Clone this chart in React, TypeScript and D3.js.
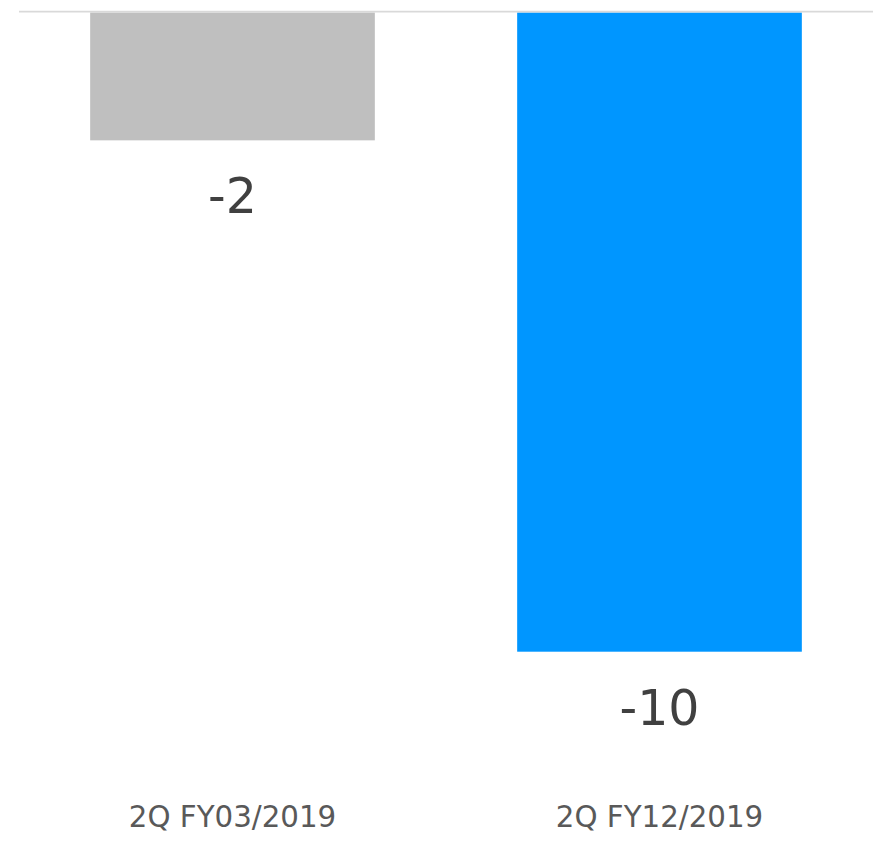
import React from "react";
import * as d3 from "d3";

const categories = ["2Q FY03/2019", "2Q FY12/2019"];
const values = [-2, -10];
const barColors = ["#bfbfbf", "#0096ff"];

const W = 885;
const H = 844;

export default function App() {
  const x = d3
    .scaleBand<string>()
    .domain(categories)
    .range([19, 873])
    .paddingInner(1 / 3)
    .paddingOuter(1 / 6);
  const y = d3.scaleLinear().domain([0, -10]).range([12.5, 651.7]);

  return (
    <svg
      width={W}
      height={H}
      style={{ position: "absolute", left: 0, top: 0 }}
      fontFamily="'DejaVu Sans', Verdana, sans-serif"
    >
      <rect width={W} height={H} fill="#ffffff" />
      {categories.map((c, i) => {
        const v = values[i];
        const x0 = x(c)!;
        const bw = x.bandwidth();
        const yTop = y(Math.max(0, v));
        const yBot = y(Math.min(0, v));
        return (
          <g key={c}>
            <rect x={x0} y={yTop} width={bw} height={yBot - yTop} fill={barColors[i]} />
            <text
              x={x0 + bw / 2}
              y={yBot + 73}
              textAnchor="middle"
              fontSize={49}
              fill="#404040"
            >
              {String(v)}
            </text>
            <text
              x={x0 + bw / 2}
              y={827}
              textAnchor="middle"
              fontSize={29.3}
              fill="#595959"
            >
              {c}
            </text>
          </g>
        );
      })}
      <line x1={19} x2={873} y1={y(0) - 0.8} y2={y(0) - 0.8} stroke="#d9d9d9" strokeWidth={1.8} />
    </svg>
  );
}
